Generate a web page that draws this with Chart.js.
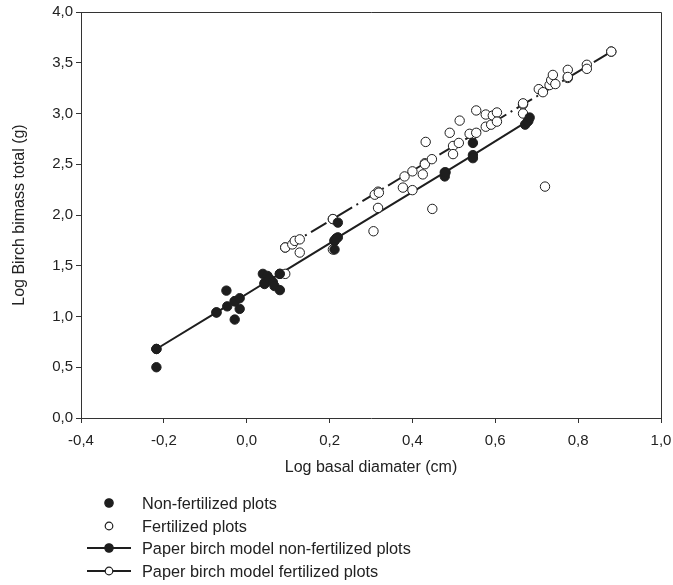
<!DOCTYPE html>
<html>
<head>
<meta charset="utf-8">
<script src="https://cdn.jsdelivr.net/npm/chart.js@4/dist/chart.umd.min.js"></script>
<style>
  html, body { margin: 0; padding: 0; background: #fff; }
  #wrap { position: relative; width: 673px; height: 585px; }
  #legend { position: absolute; left: 0; top: 0; font-family: "Liberation Sans", Arial, sans-serif; font-size: 16.3px; color: #222; }
  .li { position: absolute; left: 84px; height: 20px; display: flex; align-items: center; white-space: nowrap; }
  .li svg { width: 52px; height: 14px; margin-right: 6px; }
</style>
</head>
<body>
<div id="wrap">
  <canvas id="c" width="673" height="585"></canvas>
  <div id="legend"></div>
</div>
<script>
// ---- data ----
const nonFertX = [-0.218, -0.218, -0.073, -0.049, -0.047, -0.029, -0.029, -0.017, -0.017, 0.039, 0.043, 0.050, 0.055, 0.063, 0.067, 0.080, 0.080, 0.212, 0.212, 0.216, 0.220, 0.478, 0.480, 0.546, 0.546, 0.672, 0.678, 0.683];
const nonFertY = [0.68, 0.50, 1.04, 1.255, 1.10, 0.97, 1.15, 1.18, 1.075, 1.42, 1.32, 1.40, 1.37, 1.34, 1.30, 1.42, 1.26, 1.745, 1.66, 1.77, 1.925, 2.38, 2.42, 2.56, 2.71, 2.89, 2.92, 2.96];

const fertX = [0.093, 0.093, 0.110, 0.116, 0.128, 0.128, 0.208, 0.208, 0.306, 0.317, 0.309, 0.319, 0.377, 0.381, 0.400, 0.400, 0.425, 0.430, 0.432, 0.447, 0.448, 0.490, 0.498, 0.498, 0.512, 0.514, 0.538, 0.554, 0.554, 0.577, 0.577, 0.590, 0.594, 0.604, 0.604, 0.667, 0.667, 0.705, 0.715, 0.720, 0.731, 0.735, 0.739, 0.745, 0.775, 0.775, 0.821, 0.821, 0.880];
const fertY = [1.42, 1.68, 1.71, 1.745, 1.76, 1.63, 1.96, 1.66, 1.84, 2.07, 2.20, 2.22, 2.27, 2.38, 2.43, 2.245, 2.40, 2.50, 2.72, 2.55, 2.06, 2.81, 2.68, 2.60, 2.71, 2.93, 2.80, 3.03, 2.81, 2.99, 2.87, 2.89, 2.98, 3.01, 2.92, 3.10, 3.00, 3.24, 3.21, 2.28, 3.28, 3.33, 3.38, 3.29, 3.43, 3.36, 3.48, 3.44, 3.61];

const modelNonFertX = [-0.218, -0.073, -0.029, 0.043, 0.080, 0.212, 0.220, 0.478, 0.546, 0.680];
const modelNonFertY = [0.68, 1.04, 1.15, 1.33, 1.42, 1.75, 1.78, 2.42, 2.59, 2.93];

const modelFertX = [0.093, 0.208, 0.317, 0.430, 0.546, 0.667, 0.775, 0.880];
const modelFertY = [1.68, 1.96, 2.23, 2.51, 2.79, 3.09, 3.35, 3.61];

const seriesLabels = ["Non-fertilized plots", "Fertilized plots", "Paper birch model non-fertilized plots", "Paper birch model fertilized plots"];
const xTitle = "Log basal diamater (cm)";
const yTitle = "Log Birch bimass total (g)";

// ---- build chart ----
const pts = (xs, ys) => xs.map((x, i) => ({ x: x, y: ys[i] }));
const fmt = v => (Math.abs(v) < 1e-9 ? 0 : v).toFixed(1).replace('.', ',');
const INK = '#1e1e1e';
const FONT = '"Liberation Sans", Arial, sans-serif';

const frame = {
  id: 'frame',
  beforeDatasetsDraw(chart) {
    const a = chart.chartArea, ctx = chart.ctx;
    ctx.save();
    ctx.strokeStyle = '#333';
    ctx.lineWidth = 1;
    ctx.beginPath();
    ctx.moveTo(a.left, a.top + 0.5);
    ctx.lineTo(a.right + 0.5, a.top + 0.5);
    ctx.lineTo(a.right + 0.5, a.bottom);
    ctx.stroke();
    ctx.restore();
  }
};

const chart = new Chart(document.getElementById('c'), {
  type: 'scatter',
  data: {
    datasets: [
      { label: seriesLabels[0], data: pts(nonFertX, nonFertY), showLine: false,
        pointRadius: 4.7, pointBackgroundColor: INK, pointBorderColor: INK, pointBorderWidth: 1, order: 0,
        legendType: 'filled' },
      { label: seriesLabels[1], data: pts(fertX, fertY), showLine: false,
        pointRadius: 4.7, pointBackgroundColor: '#fff', pointBorderColor: INK, pointBorderWidth: 1, order: 1,
        legendType: 'open' },
      { label: seriesLabels[2], data: pts(modelNonFertX, modelNonFertY), showLine: true,
        borderColor: INK, borderWidth: 2, pointRadius: 4.7, pointBackgroundColor: INK, pointBorderColor: INK,
        pointBorderWidth: 1, order: 3, legendType: 'lineFilled' },
      { label: seriesLabels[3], data: pts(modelFertX, modelFertY), showLine: true,
        borderColor: INK, borderWidth: 2, borderDash: [18, 5, 2, 5], pointRadius: 4.7, pointBackgroundColor: '#fff',
        pointBorderColor: INK, pointBorderWidth: 1, order: 2, legendType: 'lineOpen' }
    ]
  },
  options: {
    responsive: false,
    animation: false,
    layout: { padding: { left: 0, right: 12, top: 12, bottom: 105 } },
    plugins: { legend: { display: false }, tooltip: { enabled: false } },
    scales: {
      x: {
        type: 'linear', position: 'bottom', min: -0.4, max: 1.0,
        ticks: { stepSize: 0.2, callback: fmt, color: '#222', font: { family: FONT, size: 15 }, padding: 9, maxRotation: 0 },
        grid: { display: true, drawOnChartArea: false, drawTicks: true, tickLength: 5, color: '#333' },
        border: { display: true, color: '#333', width: 1 },
        title: { display: true, text: xTitle, color: '#222', font: { family: FONT, size: 16 }, padding: { top: 4, bottom: 3 } },
        afterFit: s => { s.height = 62; s.paddingLeft = 0; s.paddingRight = 0; }
      },
      y: {
        type: 'linear', min: 0, max: 4,
        ticks: { stepSize: 0.5, callback: fmt, color: '#222', font: { family: FONT, size: 15 }, padding: 3 },
        grid: { display: true, drawOnChartArea: false, drawTicks: true, tickLength: 5, color: '#333' },
        border: { display: true, color: '#333', width: 1 },
        title: { display: true, text: yTitle, color: '#222', font: { family: FONT, size: 16 }, padding: { top: 10, bottom: 4 } },
        afterFit: s => { s.width = 81; s.paddingTop = 0; s.paddingBottom = 0; }
      }
    }
  },
  plugins: [frame]
});

// ---- HTML legend built from the datasets ----
const legendTops = [493, 516, 538, 561];
const leg = document.getElementById('legend');
chart.data.datasets.forEach((ds, i) => {
  const t = ds.legendType;
  let svg = '<svg viewBox="0 0 52 14">';
  if (t === 'lineFilled' || t === 'lineOpen') {
    svg += '<line x1="3" y1="7" x2="47" y2="7" stroke="' + INK + '" stroke-width="2"/>';
  }
  const fill = (t === 'filled' || t === 'lineFilled') ? INK : '#fff';
  const r = (t === 'filled' || t === 'lineFilled') ? 4.2 : 3.8;
  svg += '<circle cx="25" cy="7" r="' + r + '" fill="' + fill + '" stroke="' + INK + '" stroke-width="1.2"/>';
  svg += '</svg>';
  const d = document.createElement('div');
  d.className = 'li';
  d.style.top = legendTops[i] + 'px';
  d.innerHTML = svg + '<span>' + ds.label + '</span>';
  leg.appendChild(d);
});
</script>
</body>
</html>
